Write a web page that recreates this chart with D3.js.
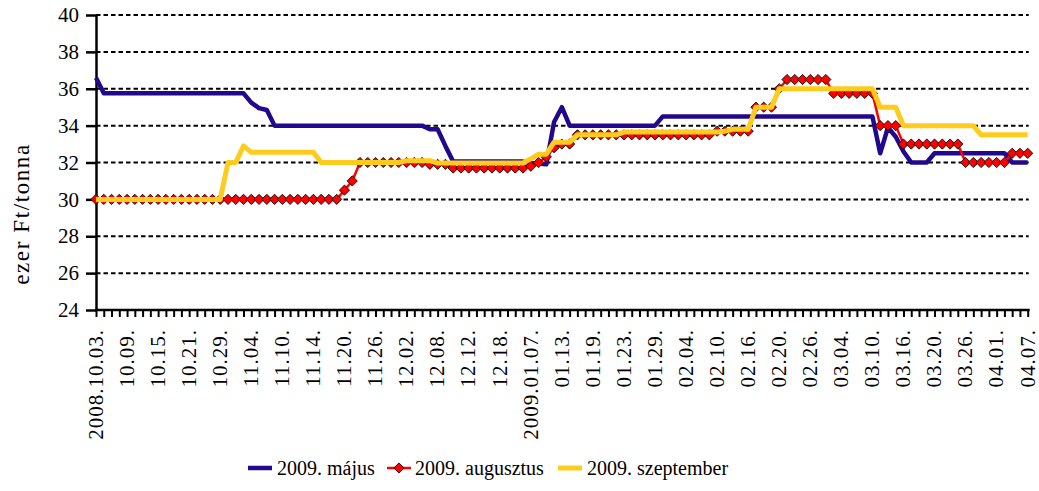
<!DOCTYPE html>
<html>
<head>
<meta charset="utf-8">
<script src="https://cdn.jsdelivr.net/npm/d3@7"></script>
<style>
  html, body { margin: 0; padding: 0; background: #fff; }
  svg { display: block; }
  text { font-family: "Liberation Serif", "DejaVu Serif", serif; fill: #000; }
</style>
</head>
<body>
<svg id="chart" width="1039" height="491"></svg>
<script>
// ---- data ----
const categories = [
  "2008.10.03.","10.06.","10.07.","10.08.","10.09.","10.10.","10.13.","10.14.","10.15.","10.16.",
  "10.17.","10.20.","10.21.","10.22.","10.27.","10.28.","10.29.","10.30.","10.31.","11.03.",
  "11.04.","11.05.","11.06.","11.07.","11.10.","11.11.","11.12.","11.13.","11.14.","11.17.",
  "11.18.","11.19.","11.20.","11.21.","11.24.","11.25.","11.26.","11.27.","11.28.","12.01.",
  "12.02.","12.03.","12.04.","12.05.","12.08.","12.09.","12.10.","12.11.","12.12.","12.15.",
  "12.16.","12.17.","12.18.","12.19.","12.22.","2009.01.06.","2009.01.07.","01.08.","01.09.","01.12.",
  "01.13.","01.14.","01.15.","01.16.","01.19.","01.20.","01.21.","01.22.","01.23.","01.26.",
  "01.27.","01.28.","01.29.","01.30.","02.02.","02.03.","02.04.","02.05.","02.06.","02.09.",
  "02.10.","02.11.","02.12.","02.13.","02.16.","02.17.","02.18.","02.19.","02.20.","02.23.",
  "02.24.","02.25.","02.26.","02.27.","03.02.","03.03.","03.04.","03.05.","03.06.","03.09.",
  "03.10.","03.11.","03.12.","03.13.","03.16.","03.17.","03.18.","03.19.","03.20.","03.23.",
  "03.24.","03.25.","03.26.","03.27.","03.30.","03.31.","04.01.","04.02.","04.03.","04.06.",
  "04.07."
];
const tickLabels = [
  "2008.10.03.","10.09.","10.15.","10.21.","10.29.","11.04.","11.10.","11.14.","11.20.","11.26.",
  "12.02.","12.08.","12.12.","12.18.","2009.01.07.","01.13.","01.19.","01.23.","01.29.","02.04.",
  "02.10.","02.16.","02.20.","02.26.","03.04.","03.10.","03.16.","03.20.","03.26.","04.01.","04.07."
];
const yTicks = [24, 26, 28, 30, 32, 34, 36, 38, 40];
const seriesNames = ["2009. május", "2009. augusztus", "2009. szeptember"];

const maj = [
  36.6, 35.75, 35.75, 35.75, 35.75, 35.75, 35.75, 35.75, 35.75, 35.75,
  35.75, 35.75, 35.75, 35.75, 35.75, 35.75, 35.75, 35.75, 35.75, 35.75,
  35.25, 34.95, 34.85, 34, 34, 34, 34, 34, 34, 34,
  34, 34, 34, 34, 34, 34, 34, 34, 34, 34,
  34, 34, 34, 33.8, 33.8, 32.9, 32.05, 32.05, 32.05, 32.05,
  32.05, 32.05, 32.05, 32.05, 32.05, 32.05, 31.95, 31.95, 31.9, 34.2,
  35.0, 34, 34, 34, 34, 34, 34, 34, 34, 34,
  34, 34, 34, 34.5, 34.5, 34.5, 34.5, 34.5, 34.5, 34.5,
  34.5, 34.5, 34.5, 34.5, 34.5, 34.5, 34.5, 34.5, 34.5, 34.5,
  34.5, 34.5, 34.5, 34.5, 34.5, 34.5, 34.5, 34.5, 34.5, 34.5,
  34.5, 32.5, 33.9, 33.4, 32.6, 32, 32, 32, 32.5, 32.5,
  32.5, 32.5, 32.5, 32.5, 32.5, 32.5, 32.5, 32.5, 32, 32,
  32
];
const aug = [
  30, 30, 30, 30, 30, 30, 30, 30, 30, 30,
  30, 30, 30, 30, 30, 30, 30, 30, 30, 30,
  30, 30, 30, 30, 30, 30, 30, 30, 30, 30,
  30, 30, 30.5, 31, 32, 32, 32, 32, 32, 32,
  32, 32, 32, 31.9, 31.9, 31.9, 31.7, 31.7, 31.7, 31.7,
  31.7, 31.7, 31.7, 31.7, 31.7, 31.7, 31.8, 32, 32.3, 32.8,
  33, 33, 33.5, 33.5, 33.5, 33.5, 33.5, 33.5, 33.5, 33.5,
  33.5, 33.5, 33.5, 33.5, 33.5, 33.5, 33.5, 33.5, 33.5, 33.5,
  33.7, 33.7, 33.7, 33.7, 33.7, 35, 35, 35, 36, 36.5,
  36.5, 36.5, 36.5, 36.5, 36.5, 35.75, 35.75, 35.75, 35.75, 35.75,
  35.75, 34, 34, 34, 33, 33, 33, 33, 33, 33,
  33, 33, 32, 32, 32, 32, 32, 32, 32.5, 32.5,
  32.5
];
const szep = [
  30, 30, 30, 30, 30, 30, 30, 30, 30, 30,
  30, 30, 30, 30, 30, 30, 30, 32, 32, 32.9,
  32.55, 32.55, 32.55, 32.55, 32.55, 32.55, 32.55, 32.55, 32.55, 32,
  32, 32, 32, 32, 32, 32, 32, 32, 32, 32,
  32.1, 32.1, 32.1, 32.1, 31.97, 31.97, 31.97, 31.97, 31.97, 31.97,
  31.97, 31.97, 31.97, 31.97, 31.97, 31.97, 32.2, 32.45, 32.45, 33.1,
  33.1, 33.1, 33.5, 33.5, 33.5, 33.5, 33.5, 33.5, 33.65, 33.65,
  33.65, 33.65, 33.65, 33.65, 33.65, 33.65, 33.65, 33.65, 33.65, 33.65,
  33.65, 33.7, 33.8, 33.8, 33.8, 35, 35, 35, 36, 36,
  36, 36, 36, 36, 36, 36, 36, 36, 36, 36,
  36, 35, 35, 35, 34, 34, 34, 34, 34, 34,
  34, 34, 34, 34, 33.5, 33.5, 33.5, 33.5, 33.5, 33.5,
  33.5
];

// ---- layout ----
const svg = d3.select("#chart");
const L = 96, R = 1027.7, T = 15, B = 310;
const x = d3.scalePoint().domain(d3.range(categories.length)).range([L, R]);
const y = d3.scaleLinear().domain([24, 40]).range([B, T]);
const colors = ["#22088c", "#ff0000", "#ffcc1e"];
const FONT = "Liberation Serif, serif";

// gridlines
svg.append("g").selectAll("line").data(yTicks.filter(v => v > 24)).join("line")
  .attr("x1", L).attr("x2", R + 1)
  .attr("y1", d => y(d)).attr("y2", d => y(d))
  .attr("stroke", "#000").attr("stroke-width", 2)
  .attr("stroke-dasharray", "4.5,3");

// y axis
const yAxis = svg.append("g").attr("transform", `translate(${L},0)`)
  .call(d3.axisLeft(y).tickValues(yTicks).tickSize(10).tickPadding(7).tickSizeOuter(0));
yAxis.select(".domain").attr("stroke", "#000").attr("stroke-width", 2.5);
yAxis.selectAll(".tick line").attr("stroke", "#000").attr("stroke-width", 2.5);
yAxis.selectAll(".tick text").style("font-family", FONT).style("font-size", "21px");

// x axis
const labelSet = new Set(tickLabels);
const xAxis = svg.append("g").attr("transform", `translate(0,${B})`)
  .call(d3.axisBottom(x).tickSize(7).tickSizeOuter(0)
    .tickFormat(i => (i % 4 === 0 && labelSet.has(categories[i])) ? categories[i] : ""));
xAxis.select(".domain").attr("stroke", "#000").attr("stroke-width", 2.5)
  .attr("d", `M${L - 1},0H${R + 2}`);
xAxis.selectAll(".tick line").attr("stroke", "#000").attr("stroke-width", 2);
xAxis.selectAll(".tick text")
  .attr("transform", "rotate(-90)")
  .attr("x", -19).attr("y", 0).attr("dy", "0.3em")
  .attr("text-anchor", "end")
  .style("font-family", FONT).style("font-size", "21px")
  .style("letter-spacing", "1px");

// y title
svg.append("text")
  .attr("transform", "translate(29,214) rotate(-90)")
  .attr("text-anchor", "middle")
  .style("font-family", FONT).style("font-size", "23px")
  .style("letter-spacing", "1.6px")
  .text("ezer Ft/tonna");

// lines
const line = d3.line().x((d, i) => x(i)).y(d => y(d));
const gl = svg.append("g");
gl.append("path").datum(maj).attr("d", line)
  .attr("fill", "none").attr("stroke", colors[0]).attr("stroke-width", 4.5).attr("stroke-linejoin", "round");
gl.append("path").datum(aug).attr("d", line)
  .attr("fill", "none").attr("stroke", colors[1]).attr("stroke-width", 2.5).attr("stroke-linejoin", "round");
const diamond = d3.symbol().type(d3.symbolSquare).size(52);
gl.append("g").selectAll("path").data(aug).join("path")
  .attr("d", diamond)
  .attr("transform", (d, i) => `translate(${x(i)},${y(d)}) rotate(45)`)
  .attr("fill", colors[1]).attr("stroke", "#000").attr("stroke-width", 0.8);
gl.append("path").datum(szep).attr("d", line)
  .attr("fill", "none").attr("stroke", colors[2]).attr("stroke-width", 5).attr("stroke-linejoin", "round");

// legend
const lg = svg.append("g").attr("transform", "translate(0,468)");
const items = [
  {x: 248, tx: 277, c: colors[0], w: 4.5, m: false},
  {x: 387, tx: 415, c: colors[1], w: 2.5, m: true},
  {x: 558, tx: 587, c: colors[2], w: 5, m: false}
];
items.forEach((it, k) => {
  lg.append("line").attr("x1", it.x).attr("x2", it.x + 24).attr("y1", 0).attr("y2", 0)
    .attr("stroke", it.c).attr("stroke-width", it.w);
  if (it.m) {
    lg.append("path").attr("d", diamond)
      .attr("transform", `translate(${it.x + 12},0) rotate(45)`)
      .attr("fill", it.c).attr("stroke", "#000").attr("stroke-width", 0.8);
  }
  lg.append("text").attr("x", it.tx).attr("y", 0).attr("dy", "0.35em")
    .style("font-family", FONT).style("font-size", "20px")
    .text(seriesNames[k]);
});
</script>
</body>
</html>
